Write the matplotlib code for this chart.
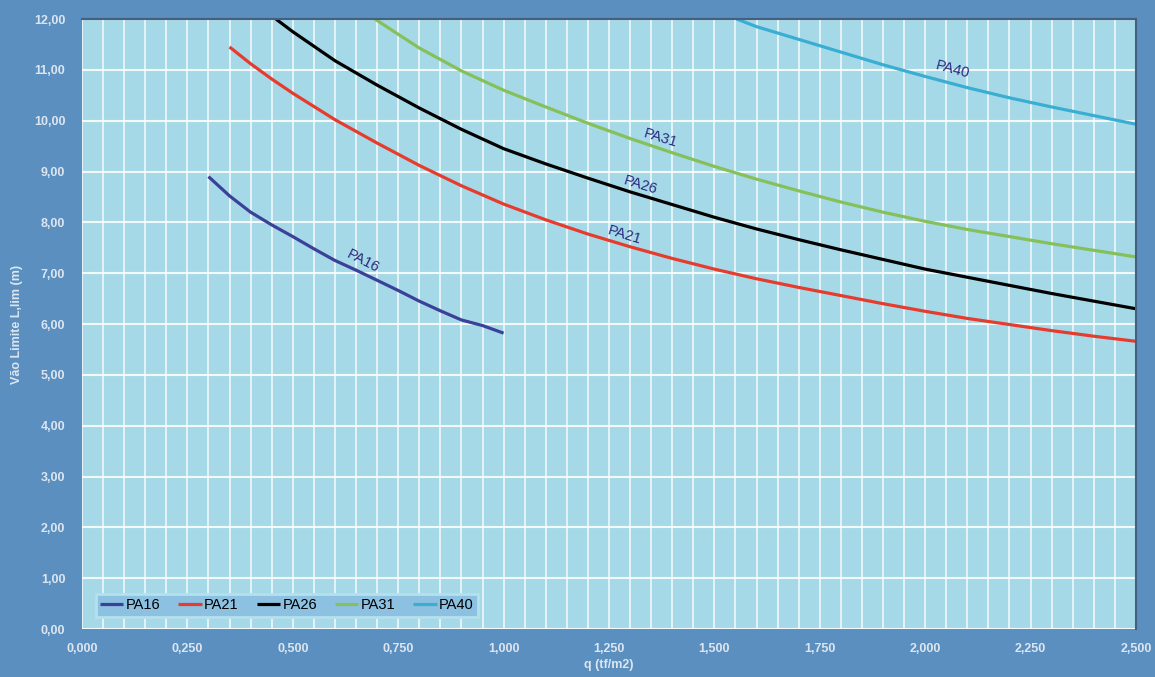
import matplotlib.pyplot as plt
from matplotlib.ticker import MultipleLocator, FuncFormatter

# --- Data ---
q_pa16 = [0.30, 0.35, 0.40, 0.45, 0.50, 0.55, 0.60, 0.65, 0.70, 0.75, 0.80, 0.85, 0.90, 0.95, 1.00]
l_pa16 = [8.90, 8.52, 8.20, 7.95, 7.72, 7.48, 7.25, 7.06, 6.86, 6.66, 6.45, 6.26, 6.08, 5.97, 5.82]

q_pa21 = [0.35, 0.40, 0.45, 0.50, 0.60, 0.70, 0.80, 0.90, 1.00, 1.10, 1.20, 1.30, 1.40, 1.50,
          1.60, 1.70, 1.80, 1.90, 2.00, 2.10, 2.20, 2.30, 2.40, 2.50]
l_pa21 = [11.45, 11.12, 10.82, 10.54, 10.02, 9.56, 9.12, 8.72, 8.36, 8.05, 7.77, 7.52, 7.29, 7.08,
          6.89, 6.72, 6.56, 6.40, 6.25, 6.11, 5.99, 5.87, 5.76, 5.66]

q_pa26 = [0.46, 0.50, 0.60, 0.70, 0.80, 0.90, 1.00, 1.10, 1.20, 1.30, 1.40, 1.50, 1.60, 1.70,
          1.80, 1.90, 2.00, 2.10, 2.20, 2.30, 2.40, 2.50]
l_pa26 = [12.00, 11.75, 11.18, 10.70, 10.25, 9.83, 9.45, 9.15, 8.87, 8.60, 8.35, 8.10, 7.87, 7.66,
          7.46, 7.27, 7.08, 6.92, 6.76, 6.60, 6.45, 6.30]

q_pa31 = [0.695, 0.75, 0.80, 0.90, 1.00, 1.10, 1.20, 1.30, 1.40, 1.50, 1.60, 1.70, 1.80, 1.90,
          2.00, 2.10, 2.20, 2.30, 2.40, 2.50]
l_pa31 = [12.00, 11.70, 11.43, 10.98, 10.60, 10.27, 9.95, 9.65, 9.37, 9.10, 8.85, 8.62, 8.40, 8.20,
          8.02, 7.86, 7.72, 7.58, 7.45, 7.32]

q_pa40 = [1.553, 1.60, 1.70, 1.80, 1.90, 2.00, 2.10, 2.20, 2.30, 2.40, 2.50]
l_pa40 = [12.00, 11.85, 11.60, 11.35, 11.10, 10.87, 10.65, 10.45, 10.27, 10.10, 9.93]

series = [
    ('PA16', q_pa16, l_pa16, '#3b4199'),
    ('PA21', q_pa21, l_pa21, '#e63c2e'),
    ('PA26', q_pa26, l_pa26, '#000000'),
    ('PA31', q_pa31, l_pa31, '#86c05a'),
    ('PA40', q_pa40, l_pa40, '#3aaed2'),
]

# in-plot labels: name, x, y, rotation
curve_labels = [
    ('PA16', 0.666, 7.23, -27),
    ('PA21', 1.286, 7.75, -17),
    ('PA26', 1.325, 8.73, -17),
    ('PA31', 1.371, 9.65, -17),
    ('PA40', 2.066, 11.00, -15),
]

# --- Plot ---
fig_bg = '#5a8fc0'
plot_bg = '#a6d9e7'
tick_col = '#dde6f0'

fig = plt.figure(figsize=(11.55, 6.77), dpi=100, facecolor=fig_bg)
ax = fig.add_axes([0.071, 0.0709, 0.9125, 0.901])
ax.set_facecolor(plot_bg)

for name, q, l, col in series:
    ax.plot(q, l, color=col, linewidth=2.3, label=name, solid_capstyle='butt')

for name, x, y, rot in curve_labels:
    ax.text(x, y, name, color='#2a2a80', fontsize=10.5, rotation=rot,
            ha='center', va='center', family='Liberation Sans')

ax.set_xlim(0, 2.5)
ax.set_ylim(0, 12)
ax.xaxis.set_major_locator(MultipleLocator(0.25))
ax.xaxis.set_minor_locator(MultipleLocator(0.05))
ax.yaxis.set_major_locator(MultipleLocator(1.0))
ax.xaxis.set_major_formatter(FuncFormatter(lambda v, p: f'{v:.3f}'.replace('.', ',')))
ax.yaxis.set_major_formatter(FuncFormatter(lambda v, p: f'{v:.2f}'.replace('.', ',')))

ax.grid(True, which='both', axis='x', color='white', linewidth=1.3, alpha=0.75)
ax.grid(True, which='major', axis='y', color='white', linewidth=1.5, alpha=0.85)
ax.set_axisbelow(True)

ax.tick_params(which='both', length=0, colors=tick_col, labelsize=9)
ax.tick_params(axis='x', pad=10)
ax.tick_params(axis='y', pad=12)
for lab in ax.get_xticklabels() + ax.get_yticklabels():
    lab.set_fontweight('bold')
    lab.set_family('Liberation Sans')

for side in ['left', 'bottom']:
    ax.spines[side].set_visible(False)
for side in ['top', 'right']:
    ax.spines[side].set_color('#44607e')
    ax.spines[side].set_linewidth(1.5)

ax.set_xlabel('q (tf/m2)', color=tick_col, fontsize=9, fontweight='bold',
              family='Liberation Sans', labelpad=3)
ax.set_ylabel('Vão Limite L,lim (m)', color=tick_col, fontsize=9, fontweight='bold',
              family='Liberation Sans', labelpad=8)

leg = ax.legend(loc='lower left', ncol=5, frameon=True, fancybox=False,
                handlelength=1.6, handletextpad=0.15, columnspacing=1.25,
                borderpad=0.3, bbox_to_anchor=(0.006, 0.008),
                prop={'family': 'Liberation Sans', 'size': 10.5})
leg.get_frame().set_facecolor('#8dc1e2')
leg.get_frame().set_edgecolor('#b5e0ee')
leg.get_frame().set_alpha(1)
leg.get_frame().set_linewidth(2)

fig.savefig('out.png', dpi=100, facecolor=fig_bg)
